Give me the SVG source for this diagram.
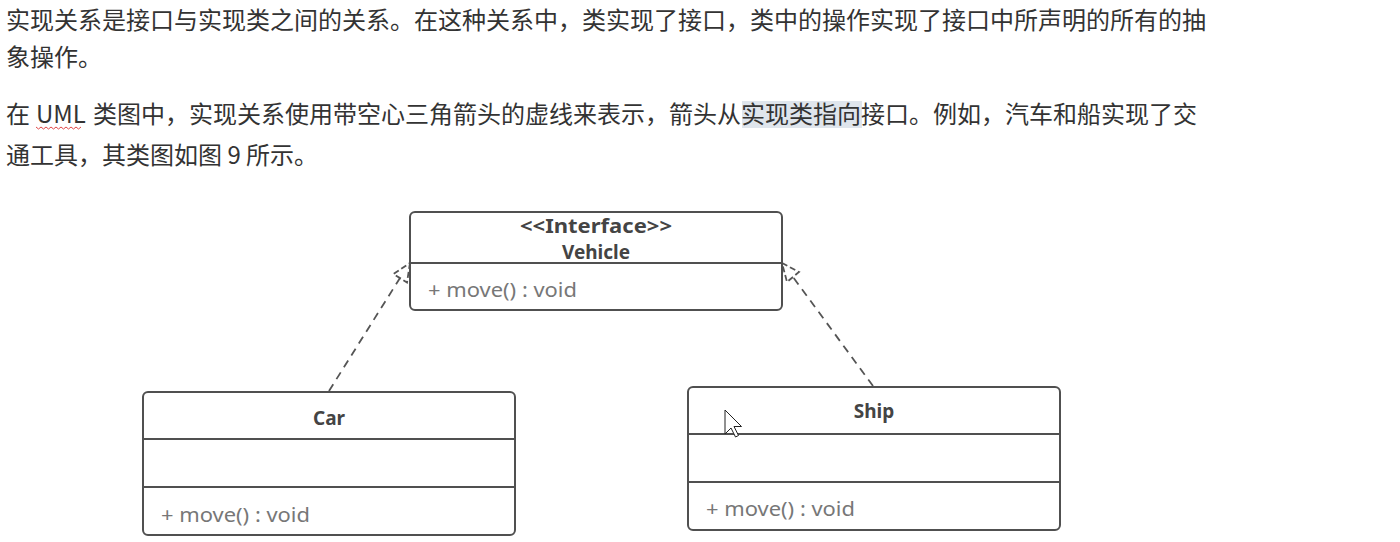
<svg xmlns="http://www.w3.org/2000/svg" width="1400" height="542" viewBox="0 0 1400 542">
<defs>
<style>
.para{font-family:"Noto Sans CJK SC","Noto Sans",sans-serif;font-size:24px;fill:#333;}
.box{fill:#fff;stroke:#505050;stroke-width:2;}
.div{stroke:#505050;stroke-width:2;}
.title{font-family:"Noto Sans","Open Sans",sans-serif;font-size:19px;font-weight:bold;fill:#444;text-anchor:middle;}
.op{font-family:"Noto Sans","Open Sans",sans-serif;font-size:20px;fill:#777;}
.dash{fill:none;stroke:#555;stroke-width:1.8;stroke-dasharray:8 6;}
.head{fill:#fff;stroke:#555;stroke-width:1.8;stroke-dasharray:6 3;}
</style>
</defs>
<rect width="1400" height="542" fill="#fff"/>
<rect x="742" y="101" width="120" height="27" fill="#dfe5ec"/>
<g id="paragraph">
<text class="para" x="6" y="29">实现关系是接口与实现类之间的关系。在这种关系中，类实现了接口，类中的操作实现了接口中所声明的所有的抽</text>
<text class="para" x="6" y="66">象操作。</text>
<text class="para" y="123"><tspan x="6">在</tspan><tspan x="36">UML</tspan><tspan x="93">类图中，实现关系使用带空心三角箭头的虚线来表示，箭头从实现类指向接口。例如，汽车和船实现了交</tspan></text>
<text class="para" x="6" y="164">通工具，其类图如图 9 所示。</text>
<path d="M36,127 l2.5,2 l2.5,-2 l2.5,2 l2.5,-2 l2.5,2 l2.5,-2 l2.5,2 l2.5,-2 l2.5,2 l2.5,-2 l2.5,2 l2.5,-2 l2.5,2 l2.5,-2 l2.5,2 l2.5,-2 l2.5,2 l2.5,-2" fill="none" stroke="#e04848" stroke-width="1"/>
</g>
<g id="connectors">
<line class="dash" x1="329" y1="391" x2="400" y2="278"/>
<polygon class="head" points="410,263 407,282.5 393.5,274"/>
<line class="dash" x1="873" y1="386" x2="793" y2="277"/>
<polygon class="head" points="782,263 799,272 787,282"/>
</g>
<g id="vehicle">
<rect class="box" x="410" y="212" width="372" height="98" rx="5"/>
<line class="div" x1="410" y1="263" x2="782" y2="263"/>
<text class="title" x="596" y="233" textLength="152" lengthAdjust="spacingAndGlyphs">&lt;&lt;Interface&gt;&gt;</text>
<text class="title" x="596" y="259">Vehicle</text>
<text class="op" x="428" y="297" textLength="149" lengthAdjust="spacingAndGlyphs">+ move() : void</text>
</g>
<g id="car">
<rect class="box" x="143" y="392" width="372" height="143" rx="5"/>
<line class="div" x1="143" y1="439" x2="515" y2="439"/>
<line class="div" x1="143" y1="487" x2="515" y2="487"/>
<text class="title" x="329" y="425">Car</text>
<text class="op" x="161" y="522" textLength="149" lengthAdjust="spacingAndGlyphs">+ move() : void</text>
</g>
<g id="ship">
<rect class="box" x="688" y="387" width="372" height="143" rx="5"/>
<line class="div" x1="688" y1="434" x2="1060" y2="434"/>
<line class="div" x1="688" y1="482" x2="1060" y2="482"/>
<text class="title" x="874" y="418">Ship</text>
<text class="op" x="706" y="516" textLength="149" lengthAdjust="spacingAndGlyphs">+ move() : void</text>
</g>
<path d="M725,410 L725,434 L731,428 L735.5,437 L738.5,435.5 L734,426.5 L741.5,426.5 Z" fill="#fff" stroke="#222" stroke-width="1"/>
</svg>
